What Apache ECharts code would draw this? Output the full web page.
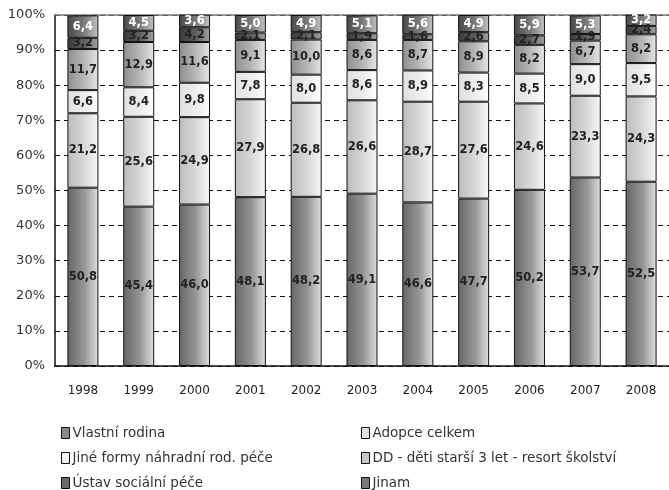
<!DOCTYPE html>
<html>
<head>
<meta charset="utf-8">
<script src="https://cdn.jsdelivr.net/npm/echarts@6/dist/echarts.min.js"></script>
<style>html,body{margin:0;padding:0;background:#fff;}#c{width:669px;height:490px;}</style>
</head>
<body>
<div id="c"></div>
<script>
const years = ['1998','1999','2000','2001','2002','2003','2004','2005','2006','2007','2008'];
const seriesNames = ['Vlastní rodina','Adopce celkem','Jiné formy náhradní rod. péče','DD - děti starší 3 let - resort školství','Ústav sociální péče','Jinam'];
const vlastniRodina = [50.8,45.4,46.0,48.1,48.2,49.1,46.6,47.7,50.2,53.7,52.5];
const adopce = [21.2,25.6,24.9,27.9,26.8,26.6,28.7,27.6,24.6,23.3,24.3];
const jineFormy = [6.6,8.4,9.8,7.8,8.0,8.6,8.9,8.3,8.5,9.0,9.5];
const dd = [11.7,12.9,11.6,9.1,10.0,8.6,8.7,8.9,8.2,6.7,8.2];
const ustav = [3.2,3.2,4.2,2.1,2.1,1.9,1.6,2.6,2.7,1.9,2.4];
const jinam = [6.4,4.5,3.6,5.0,4.9,5.1,5.6,4.9,5.9,5.3,3.2];
const yTicks = [0,10,20,30,40,50,60,70,80,90,100];

const values = [vlastniRodina, adopce, jineFormy, dd, ustav, jinam];
const grads = [['#666666','#969696','#e0e0e0'],['#bcbcbc','#d8d8d8','#f8f8f8'],['#e0e0e0','#ededed','#ffffff'],['#8e8e8e','#b8b8b8','#e6e6e6'],['#383838','#606060','#a4a4a4'],['#484848','#7c7c7c','#c4c4c4']];
const legendFill = ['#8a8a8a','#e0e0e0','#f4f4f4','#c8c8c8','#6a6a6a','#7a7a7a'];
const labelColors = ['#222','#222','#222','#222','#222','#fff'];

function grad(c){return new echarts.graphic.LinearGradient(0,0,1,0,[{offset:0,color:c[0]},{offset:0.55,color:c[1]},{offset:1,color:c[2]}], false);}

const series = seriesNames.map((n,i)=>({
  name:n, type:'bar', stack:'s', barWidth:31, xAxisIndex:0,
  data: values[i].map(v=>({value:v, itemStyle:{color:grad(grads[i])}})),
  itemStyle:{color:legendFill[i], borderColor:'#111', borderWidth:1},
  label:{show:true, position:'inside', color:labelColors[i], fontFamily:'DejaVu Sans', fontWeight:'bold', fontSize:11.5,
    formatter:p=>p.value.toFixed(1).replace('.',',')},
  emphasis:{disabled:true}
}));

const legendPos = [[61,426],[361,426],[61,451],[361,451],[61,476],[361,476]];
const legends = seriesNames.map((n,i)=>({
  left:legendPos[i][0], top:legendPos[i][1], padding:0, itemWidth:8, itemHeight:11, icon:'rect', selectedMode:false,
  textStyle:{color:'#333', fontSize:13.5, fontFamily:'DejaVu Sans', padding:[0,0,0,-2]},
  data:[{name:n, itemStyle:{color:legendFill[i], borderColor:'#111', borderWidth:1}}]
}));

const chart = echarts.init(document.getElementById('c'));
chart.setOption({
  animation:false,
  backgroundColor:'#fff',
  grid:{left:55, top:15, width:616, height:351},
  xAxis:[{type:'category', data:years, position:'bottom',
      axisLine:{lineStyle:{color:'#111', width:1.5}}, axisTick:{show:false},
      axisLabel:{color:'#222', fontSize:12, fontFamily:'DejaVu Sans', margin:19}},
    {type:'category', data:years, position:'top',
      axisLine:{lineStyle:{color:'#777', width:1.5}}, axisTick:{show:false}, axisLabel:{show:false}}],
  yAxis:{type:'value', min:yTicks[0], max:yTicks[yTicks.length-1], interval:10,
    axisLine:{show:true, lineStyle:{color:'#111', width:1.5}}, axisTick:{show:false},
    axisLabel:{color:'#333', fontSize:13, fontFamily:'DejaVu Sans', margin:10, formatter:v=>v+'%'},
    splitLine:{show:true, lineStyle:{color:'#111', type:[5,4], width:1.2}}},
  legend:legends,
  series:series
});
</script>
</body>
</html>
